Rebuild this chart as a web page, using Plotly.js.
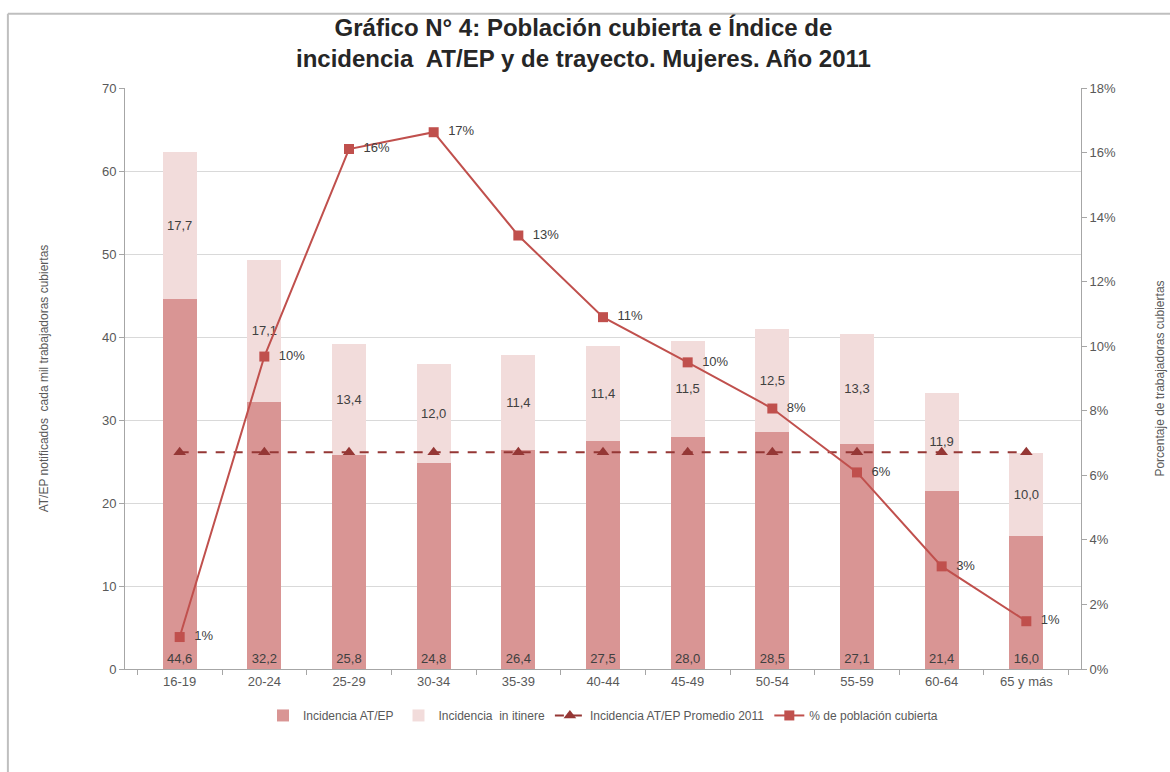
<!DOCTYPE html>
<html>
<head>
<meta charset="utf-8">
<script src="https://cdn.plot.ly/plotly-3.0.1.min.js"></script>
<style>html,body{margin:0;padding:0;background:#fff;}#chart{width:1170px;height:772px;}</style>
</head>
<body>
<div id="chart"></div>
<script>
const categories = ['16-19','20-24','25-29','30-34','35-39','40-44','45-49','50-54','55-59','60-64','65 y más'];
const incidenciaATEP = [44.6, 32.2, 25.8, 24.8, 26.4, 27.5, 28.0, 28.5, 27.1, 21.4, 16.0];
const incidenciaItinere = [17.7, 17.1, 13.4, 12.0, 11.4, 11.4, 11.5, 12.5, 13.3, 11.9, 10.0];
const promedio2011 = [26.1, 26.1, 26.1, 26.1, 26.1, 26.1, 26.1, 26.1, 26.1, 26.1, 26.1];
const poblacionCubierta = [0.99, 9.68, 16.11, 16.63, 13.43, 10.9, 9.5, 8.07, 6.09, 3.18, 1.48];
const chartTitle = '<b>Gráfico N° 4: Población cubierta e Índice de<br>incidencia  AT/EP y de trayecto. Mujeres. Año 2011</b>';

const FONT = 'Liberation Sans, Arial, sans-serif';
const labelFont = {family: FONT, size: 13, color: '#404040'};

const traces = [
  {
    type: 'bar', name: 'Incidencia AT/EP', x: categories, y: incidenciaATEP,
    marker: {color: '#d99594'},
    texttemplate: '%{y:.1f}', textposition: 'inside', insidetextanchor: 'start',
    textfont: labelFont, textangle: 0, hoverinfo: 'none'
  },
  {
    type: 'bar', name: 'Incidencia  in itinere', x: categories, y: incidenciaItinere,
    marker: {color: '#f2dcdb'},
    texttemplate: '%{y:.1f}', textposition: 'inside', insidetextanchor: 'middle',
    textfont: labelFont, textangle: 0, hoverinfo: 'none'
  },
  {
    type: 'scatter', mode: 'lines+markers', name: 'Incidencia AT/EP Promedio 2011',
    x: categories, y: promedio2011,
    line: {color: '#953735', width: 2, dash: 'dash'},
    marker: {symbol: 'triangle-up', size: 11, color: '#953735'},
    hoverinfo: 'none'
  },
  {
    type: 'scatter', mode: 'lines+markers+text', name: '% de población cubierta',
    x: categories, y: poblacionCubierta, yaxis: 'y2',
    line: {color: '#c0504d', width: 2},
    marker: {symbol: 'square', size: 10, color: '#c0504d'},
    texttemplate: '  %{y:.0f}%', textposition: 'middle right',
    textfont: labelFont, hoverinfo: 'none', cliponaxis: false
  }
];

const tickFont = {family: FONT, size: 13, color: '#595959'};

const layout = {
  width: 1170, height: 772,
  margin: {l: 125, r: 89, t: 88, b: 103},
  paper_bgcolor: '#ffffff', plot_bgcolor: '#ffffff',
  separators: ',.',
  barmode: 'stack', bargap: 0.6,
  xaxis: {
    type: 'category', tickfont: tickFont,
    showline: true, linecolor: '#a6a6a6', linewidth: 1,
    ticks: 'outside', tickson: 'boundaries', ticklen: 5, tickcolor: '#a6a6a6',
    showgrid: false, zeroline: false
  },
  yaxis: {
    range: [0, 70], dtick: 10, tickfont: tickFont,
    showline: true, linecolor: '#a6a6a6', ticks: 'outside', ticklen: 5, tickcolor: '#a6a6a6',
    showgrid: true, gridcolor: '#d9d9d9', zeroline: false,
    title: {text: 'AT/EP notificados  cada mil trabajadoras cubiertas', font: {family: FONT, size: 12, color: '#595959'}, standoff: 50}
  },
  yaxis2: {
    range: [0, 18], dtick: 2, ticksuffix: '%', overlaying: 'y', side: 'right',
    tickfont: tickFont, showline: true, linecolor: '#a6a6a6', ticks: 'outside', ticklen: 5, tickcolor: '#a6a6a6',
    showgrid: false, zeroline: false,
    title: {text: 'Porcentaje de trabajadoras cubiertas', font: {family: FONT, size: 12, color: '#595959'}, standoff: 40}
  },
  legend: {
    orientation: 'h', x: 0.5, xanchor: 'center', y: -0.055, yanchor: 'top',
    font: {family: FONT, size: 12, color: '#595959'},
    traceorder: 'normal'
  },
  annotations: [
    {text: chartTitle, xref: 'paper', yref: 'paper', x: 0.48, y: 1.077, xanchor: 'center', yanchor: 'middle',
     showarrow: false, font: {family: FONT, size: 24, color: '#262626'}}
  ],
  shapes: [
    {type: 'line', xref: 'paper', yref: 'paper', x0: -0.1225, x1: 1.15, y0: 1.128, y1: 1.128,
     line: {color: '#bfbfbf', width: 2}},
    {type: 'line', xref: 'paper', yref: 'paper', x0: -0.1225, x1: -0.1225, y0: 1.128, y1: -0.3,
     line: {color: '#bfbfbf', width: 2}}
  ],
  showlegend: true
};

Plotly.newPlot('chart', traces, layout, {displayModeBar: false, staticPlot: true});
</script>
</body>
</html>
